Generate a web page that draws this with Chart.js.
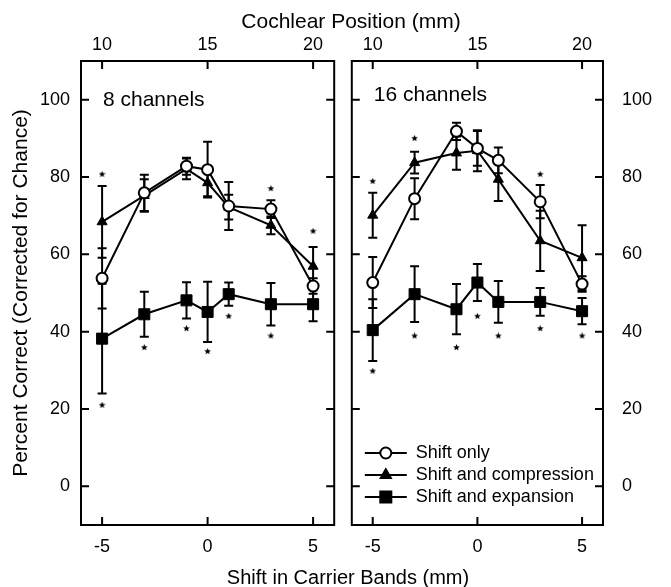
<!DOCTYPE html>
<html>
<head>
<meta charset="utf-8">
<script src="https://cdn.jsdelivr.net/npm/chart.js@4.4.1/dist/chart.umd.min.js"></script>
<style>
  html, body { margin: 0; padding: 0; background: #fff; }
  #wrap { position: relative; width: 671px; height: 587px; font-family: "Liberation Sans", Arial, sans-serif; color: #000; }
  #wrap canvas { position: absolute; top: 0; }
  #left { left: 0; }
  #right { left: 343px; }
  .title { position: absolute; line-height: 1; white-space: nowrap; transform: translate(-50%, -50%); }
</style>
</head>
<body>
<div id="wrap">
  <canvas id="left" width="343" height="587"></canvas>
  <canvas id="right" width="328" height="587"></canvas>
  <div class="title" style="left:351px; top:20px; font-size:21px;">Cochlear Position (mm)</div>
  <div class="title" style="left:348px; top:577px; font-size:20px;">Shift in Carrier Bands (mm)</div>
</div>
<script>
  const shifts = [-5, -3, -1, 0, 1, 3, 5];
  const shiftTicks = [-5, 0, 5];
  const positionTicks = [10, 15, 20];
  const percentTicks = [0, 20, 40, 60, 80, 100];
  const seriesNames = ["Shift only", "Shift and compression", "Shift and expansion"];

  // 8 channels
  const only8 = [53.8, 75.9, 82.8, 81.9, 72.5, 71.7, 51.8];
  const only8Err = [7.8, 4.7, 2.2, 7.2, 6.2, 2.3, 2];
  const comp8 = [68.4, 75.2, 82.1, 78.5, 72.2, 67.5, 56.9];
  const comp8Err = [9.3, 4.2, 2.7, 3.5, 3.2, 2.3, 5];
  const exp8 = [38.2, 44.5, 48.1, 45.1, 49.7, 47.1, 47.1];
  const exp8Err = [14.2, 5.8, 4.7, 7.8, 3, 5.5, 4.4];
  const starsUp8 = [80.7, null, null, null, null, 77, 66];
  const starsDown8 = [21, 35.9, 40.8, 34.9, 44, 38.9, null];

  // 16 channels
  const only16 = [52.7, 74.4, 91.8, 87.4, 84.3, 73.6, 52.3];
  const only16Err = [6.6, 5.3, 2.2, 4.5, 3.3, 4.3, 2];
  const comp16 = [70.1, 83.7, 86.2, 86.8, 79.4, 63.5, 59.1];
  const comp16Err = [5.8, 2.8, 4.3, 5.3, 5.6, 7.8, 8.4];
  const exp16 = [40.4, 49.7, 45.8, 52.7, 47.7, 47.7, 45.3];
  const exp16Err = [8, 7.2, 6.5, 4.8, 5.4, 3.6, 3.4];
  const starsUp16 = [78.9, 90, null, null, null, 80.7, null];
  const starsDown16 = [29.8, 38.9, 35.9, 44, 38.9, 40.8, 38.9];

  const FONT = "'Liberation Sans', Arial, sans-serif";

  // 小さな星印（有意差マーク）
  function starImage(size) {
    const c = document.createElement("canvas");
    c.width = c.height = size;
    const g = c.getContext("2d");
    const r = size / 2, ri = r * 0.45;
    g.fillStyle = "#000";
    g.beginPath();
    for (let k = 0; k < 10; k++) {
      const rad = k % 2 ? ri : r;
      const a = -Math.PI / 2 + (k * Math.PI) / 5;
      const px = r + rad * Math.cos(a), py = r + rad * Math.sin(a);
      if (k) g.lineTo(px, py); else g.moveTo(px, py);
    }
    g.closePath();
    g.fill();
    return c;
  }
  const star = starImage(7);

  const markers = [
    { pointStyle: "circle", pointRadius: 5.5, pointBackgroundColor: "#fff", pointBorderWidth: 2 },
    { pointStyle: "triangle", pointRadius: 5.8, pointBackgroundColor: "#000", pointBorderWidth: 1 },
    { pointStyle: "rect", pointRadius: 7.8, pointBackgroundColor: "#000", pointBorderWidth: 1 },
  ];

  const toPoints = (vals) => shifts.map((x, i) => ({ x, y: vals[i] })).filter((p) => p.y !== null);

  function makeDatasets(series, errors, up, down) {
    const sets = series.map((vals, i) => ({
      label: seriesNames[i],
      data: toPoints(vals),
      errors: errors[i],
      xAxisID: "x",
      yAxisID: "y",
      borderColor: "#000",
      borderWidth: 2,
      pointBorderColor: "#000",
      ...markers[i],
    }));
    sets.push({
      label: "stars",
      data: [...toPoints(up), ...toPoints(down)],
      xAxisID: "x",
      yAxisID: "y",
      showLine: false,
      pointStyle: star,
      pointRadius: 4,
    });
    return sets;
  }

  // エラーバー
  const errorBars = {
    id: "errorBars",
    beforeDatasetsDraw(chart) {
      const { ctx } = chart;
      const yScale = chart.scales.y;
      ctx.save();
      ctx.strokeStyle = "#000";
      ctx.lineWidth = 2;
      chart.data.datasets.forEach((ds, di) => {
        if (!ds.errors) return;
        chart.getDatasetMeta(di).data.forEach((pt, i) => {
          const v = ds.data[i].y, e = ds.errors[i];
          const top = yScale.getPixelForValue(v + e);
          const bot = yScale.getPixelForValue(v - e);
          ctx.beginPath();
          ctx.moveTo(pt.x, top); ctx.lineTo(pt.x, bot);
          ctx.moveTo(pt.x - 4.5, top); ctx.lineTo(pt.x + 4.5, top);
          ctx.moveTo(pt.x - 4.5, bot); ctx.lineTo(pt.x + 4.5, bot);
          ctx.stroke();
        });
      });
      ctx.restore();
    },
  };

  // 枠・内向き目盛り・パネル名・凡例
  const panel = {
    id: "panel",
    afterDraw(chart, args, opts) {
      const { ctx, chartArea: a, scales } = chart;
      const len = 8;
      ctx.save();
      ctx.strokeStyle = "#000";
      ctx.lineWidth = 2;
      ctx.strokeRect(a.left, a.top, a.right - a.left, a.bottom - a.top);
      ctx.beginPath();
      scales.y.ticks.forEach((t) => {
        const py = scales.y.getPixelForValue(t.value);
        ctx.moveTo(a.left, py); ctx.lineTo(a.left + len, py);
        ctx.moveTo(a.right, py); ctx.lineTo(a.right - len, py);
      });
      scales.x.ticks.forEach((t) => {
        const px = scales.x.getPixelForValue(t.value);
        ctx.moveTo(px, a.bottom); ctx.lineTo(px, a.bottom - len);
      });
      scales.xTop.ticks.forEach((t) => {
        const px = scales.xTop.getPixelForValue(t.value);
        ctx.moveTo(px, a.top); ctx.lineTo(px, a.top + len);
      });
      ctx.stroke();

      ctx.fillStyle = "#000";
      ctx.font = `21px ${FONT}`;
      ctx.textBaseline = "middle";
      ctx.textAlign = "left";
      ctx.fillText(opts.label, a.left + 22, opts.labelY);

      if (opts.showLegend) {
        ctx.font = `18px ${FONT}`;
        chart.data.datasets.slice(0, 3).forEach((ds, i) => {
          const y = a.bottom - 72 + i * 22;
          ctx.beginPath();
          ctx.moveTo(a.left + 13, y); ctx.lineTo(a.left + 55, y);
          ctx.stroke();
          ctx.fillStyle = ds.pointBackgroundColor;
          Chart.helpers.drawPoint(ctx, { pointStyle: ds.pointStyle, radius: ds.pointRadius, borderWidth: ds.pointBorderWidth, rotation: 0 }, a.left + 34, y);
          ctx.fillStyle = "#000";
          ctx.fillText(ds.label, a.left + 64, y);
        });
      }
      ctx.restore();
    },
  };

  const tickFont = { family: FONT, size: 18 };
  const setTicks = (values) => (scale) => { scale.ticks = values.map((value) => ({ value })); };
  const noGrid = { display: false, drawTicks: false };

  function makeChart(id, side, label, labelY, datasets, showLegend) {
    return new Chart(document.getElementById(id), {
      type: "line",
      data: { datasets },
      options: {
        responsive: false,
        animation: false,
        layout: { padding: side === "left" ? { right: 6 } : { left: 5 } },
        plugins: {
          legend: { display: false },
          tooltip: { enabled: false },
          panel: { label, labelY, showLegend },
        },
        scales: {
          x: {
            type: "linear", position: "bottom", min: -6, max: 6,
            grid: noGrid, border: { display: false },
            afterBuildTicks: setTicks(shiftTicks),
            afterFit: (s) => { s.height = 62; },
            ticks: { padding: 11, font: tickFont, color: "#000", maxRotation: 0 },
          },
          xTop: {
            type: "linear", position: "top", min: 9, max: 21,
            grid: noGrid, border: { display: false },
            afterBuildTicks: setTicks(positionTicks),
            afterFit: (s) => { s.height = 61; },
            ticks: { padding: 5, font: tickFont, color: "#000", maxRotation: 0 },
          },
          y: {
            type: "linear", position: side, min: -10, max: 110,
            grid: noGrid, border: { display: false },
            afterBuildTicks: setTicks(percentTicks),
            afterFit: (s) => { s.width = side === "left" ? 81 : 68; },
            ticks: { padding: side === "left" ? 11 : 19, font: tickFont, color: "#000" },
            title: {
              display: side === "left",
              text: "Percent Correct (Corrected for Chance)",
              color: "#000",
              font: { family: FONT, size: 21 },
              padding: { top: 9, bottom: 0 },
            },
          },
        },
      },
      plugins: [errorBars, panel],
    });
  }

  makeChart("left", "left", "8 channels", 100,
    makeDatasets([only8, comp8, exp8], [only8Err, comp8Err, exp8Err], starsUp8, starsDown8), false);
  makeChart("right", "right", "16 channels", 95,
    makeDatasets([only16, comp16, exp16], [only16Err, comp16Err, exp16Err], starsUp16, starsDown16), true);
</script>
</body>
</html>
